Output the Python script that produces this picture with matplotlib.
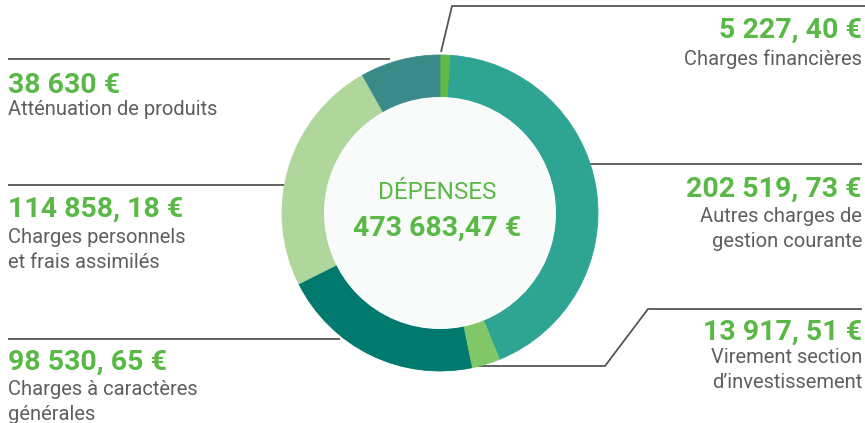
import matplotlib
matplotlib.use("Agg")
import matplotlib.pyplot as plt
from matplotlib.patches import Circle

# donut data (clockwise from the top)
labels = ["Charges financières", "Autres charges de\ngestion courante",
          "Virement section\nd’investissement", "Charges à caractères\ngénérales",
          "Charges personnels\net frais assimilés", "Atténuation de produits"]
values = [5227.40, 202519.73, 13917.51, 98530.65, 114858.18, 38630.00]
value_text = ["5 227, 40 €", "202 519, 73 €", "13 917, 51 €", "98 530, 65 €",
              "114 858, 18 €", "38 630 €"]
colors = ["#5dbb46", "#2ea493", "#80c76a", "#00796f", "#afd79c", "#3a8a89"]
total_text = "473 683,47 €"

GREEN = "#5ab946"
GREY = "#5e5e5e"
LINE = "#555555"
FONT = "Roboto"

fig = plt.figure(figsize=(8.65, 4.23), dpi=100)
ax = fig.add_axes([0, 0, 1, 1])

cx, cy, R, r_in = 440, 213, 158, 116

# leader lines (drawn behind the ring)
leaders = [
    ([441, 452, 865], [52, 6, 6]),            # financières
    ([580, 862], [164, 164]),                 # autres charges
    ([477, 605, 648, 862], [366, 366, 309, 309]),  # virement
    ([8, 340], [339, 339]),                   # générales
    ([8, 300], [185, 185]),                   # personnels
    ([8, 390], [59, 59]),                     # atténuation
]
for xs, ys in leaders:
    ax.plot(xs, ys, color=LINE, lw=1.3, zorder=1, solid_capstyle="butt")

# y axis is flipped, so counterclock=True draws clockwise on screen
wedges, _ = ax.pie(values, colors=colors, startangle=-90, counterclock=True,
                   radius=R, center=(cx, cy), frame=True,
                   wedgeprops=dict(width=R - r_in, linewidth=0.6, zorder=2))
for w, c in zip(wedges, colors):
    w.set_edgecolor(c)
    w.set_zorder(2)
ax.add_patch(Circle((cx, cy), r_in, facecolor="#f8fbfa", edgecolor="none", zorder=3))

ax.text(437, 199, "DÉPENSES", color=GREEN, fontsize=17.5, family=FONT,
        ha="center", va="baseline", zorder=4)
ax.text(437, 236, total_text, color=GREEN, fontsize=20.5, family=FONT,
        fontweight="bold", ha="center", va="baseline", zorder=4)

# label blocks: (x, value baseline, first label baseline, align)
blocks = [
    (862, 38, 65, "right"),
    (862, 197, 222, "right"),
    (862, 340, 363, "right"),
    (8, 370, 395, "left"),
    (8, 217, 243, "left"),
    (8, 93, 115, "left"),
]
for (x, yv, yl, ha), vt, lab in zip(blocks, value_text, labels):
    ax.text(x, yv, vt, color=GREEN, fontsize=20.5, fontweight="bold",
            family=FONT, ha=ha, va="baseline")
    for i, line in enumerate(lab.split("\n")):
        ax.text(x, yl + 24.5 * i, line, color=GREY, fontsize=14.5, family=FONT,
                ha=ha, va="baseline")

ax.set_xlim(0, 865)
ax.set_ylim(423, 0)
ax.set_aspect("equal")
ax.axis("off")

fig.savefig("out.png", dpi=100, facecolor="white")
